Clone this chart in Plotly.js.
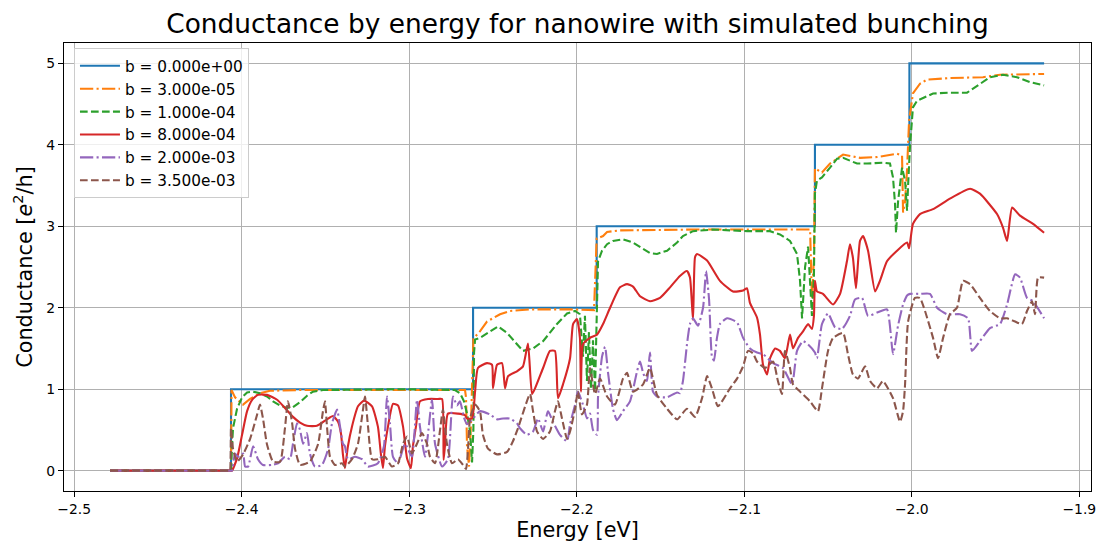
<!DOCTYPE html>
<html>
<head>
<meta charset="utf-8">
<script src="https://cdn.plot.ly/plotly-3.0.1.min.js"></script>
<style>html,body{margin:0;padding:0;background:#fff;}#chart{width:1097px;height:542px;}</style>
</head>
<body>
<div id="chart"></div>
<script>
// Series labels
const seriesLabels = ["b = 0.000e+00", "b = 3.000e-05", "b = 1.000e-04", "b = 8.000e-04", "b = 2.000e-03", "b = 3.500e-03"];
const seriesColors = ["#1f77b4", "#ff7f0e", "#2ca02c", "#d62728", "#9467bd", "#8c564b"];
const xTicks = [-2.5, -2.4, -2.3, -2.2, -2.1, -2.0, -1.9];
const yTicks = [0, 1, 2, 3, 4, 5];

// b = 0
const energy0 = [-2.4786, -2.4064, -2.4064, -2.2619, -2.2619, -2.1881, -2.1881, -2.0578, -2.0578, -2.0014, -2.0014, -1.9210];
const cond0   = [0, 0, 1, 1, 2, 2, 3, 3, 4, 4, 5, 5];

// b = 3e-5
const energy1 = [-2.4786, -2.4064, -2.4061, -2.4040, -2.3992, -2.3950, -2.3891, -2.3831, -2.3652, -2.3055, -2.2667, -2.2661, -2.2655, -2.2643, -2.2631, -2.2617, -2.2578, -2.2536, -2.2458, -2.2399, -2.2279, -2.2040, -2.1897, -2.1881, -2.1843, -2.1819, -2.1742, -2.1264, -2.0667, -2.0607, -2.0601, -2.0596, -2.0584, -2.0578, -2.0536, -2.0488, -2.0410, -2.0309, -2.0207, -2.0088, -2.0058, -2.0052, -2.0040, -2.0028, -2.0016, -1.9993, -1.9951, -1.9909, -1.9772, -1.9575, -1.9473, -1.9210];
const cond1   = [0, 0, 0.99, 0.90, 0.81, 0.88, 0.95, 0.98, 0.99, 0.995, 0.99, 0.9, 0.3, 0.05, 0.6, 1.62, 1.71, 1.83, 1.92, 1.96, 1.98, 1.98, 1.97, 2.85, 2.88, 2.93, 2.95, 2.96, 2.96, 2.96, 2.5, 2.12, 2.6, 3.71, 3.66, 3.77, 3.88, 3.84, 3.85, 3.89, 3.87, 3.17, 3.3, 3.7, 4.3, 4.63, 4.75, 4.80, 4.82, 4.83, 4.86, 4.87];

// b = 1e-4
const energy2 = [-2.4786, -2.4064, -2.4058, -2.4052, -2.4028, -2.3998, -2.3968, -2.3932, -2.3891, -2.3849, -2.3813, -2.3771, -2.3730, -2.3694, -2.3652, -2.3610, -2.3575, -2.3515, -2.3055, -2.2727, -2.2697, -2.2673, -2.2655, -2.2637, -2.2625, -2.2617, -2.2613, -2.2607, -2.2578, -2.2518, -2.2470, -2.2416, -2.2357, -2.2321, -2.2261, -2.2201, -2.2118, -2.2058, -2.2010, -2.1981, -2.1963, -2.1951, -2.1939, -2.1927, -2.1915, -2.1903, -2.1891, -2.1885, -2.1879, -2.1873, -2.1849, -2.1819, -2.1784, -2.1724, -2.1664, -2.1604, -2.1563, -2.1521, -2.1461, -2.1401, -2.1366, -2.1306, -2.1187, -2.0984, -2.0846, -2.0787, -2.0727, -2.0685, -2.0667, -2.0655, -2.0637, -2.0619, -2.0607, -2.0596, -2.0584, -2.0578, -2.0566, -2.0536, -2.0488, -2.0446, -2.0410, -2.0327, -2.0267, -2.0172, -2.0130, -2.0112, -2.0100, -2.0094, -2.0082, -2.0058, -2.0040, -2.0028, -2.0022, -2.0010, -1.9993, -1.9969, -1.9873, -1.9772, -1.9670, -1.9593, -1.9533, -1.9455, -1.9372, -1.9294, -1.9210];
const cond2   = [0, 0, 0.30, 0.52, 0.76, 0.90, 0.96, 0.97, 0.95, 0.91, 0.85, 0.80, 0.77, 0.78, 0.84, 0.92, 0.97, 0.99, 1.0, 0.99, 0.95, 0.85, 0.7, 0.48, 0.1, 0.5, 1.45, 1.61, 1.63, 1.71, 1.77, 1.69, 1.55, 1.47, 1.50, 1.59, 1.80, 1.93, 1.96, 1.92, 1.4, 1.9, 1.1, 1.7, 1.0, 1.6, 0.98, 1.5, 2.3, 2.57, 2.70, 2.78, 2.82, 2.84, 2.80, 2.72, 2.67, 2.66, 2.70, 2.80, 2.88, 2.94, 2.96, 2.94, 2.94, 2.90, 2.82, 2.66, 2.33, 1.87, 2.5, 2.75, 2.3, 1.9, 2.4, 3.4, 3.56, 3.60, 3.72, 3.83, 3.84, 3.77, 3.77, 3.78, 3.77, 3.60, 3.28, 2.92, 3.3, 3.72, 3.56, 3.19, 3.5, 4.0, 4.46, 4.54, 4.63, 4.64, 4.64, 4.75, 4.83, 4.86, 4.83, 4.77, 4.73];

// b = 8e-4
const energy3 = [-2.4786, -2.4066, -2.4058, -2.4028, -2.3998, -2.3968, -2.3938, -2.3903, -2.3849, -2.3789, -2.3742, -2.3694, -2.3652, -2.3610, -2.3551, -2.3491, -2.3455, -2.3425, -2.3407, -2.3396, -2.3384, -2.3366, -2.3342, -2.3306, -2.3270, -2.3222, -2.3187, -2.3169, -2.3157, -2.3145, -2.3127, -2.3097, -2.3067, -2.3037, -2.3013, -2.2990, -2.2978, -2.2960, -2.2936, -2.2888, -2.2828, -2.2804, -2.2795, -2.2787, -2.2769, -2.2709, -2.2667, -2.2655, -2.2625, -2.2607, -2.2590, -2.2536, -2.2506, -2.2500, -2.2476, -2.2446, -2.2428, -2.2410, -2.2357, -2.2321, -2.2291, -2.2267, -2.2249, -2.2201, -2.2160, -2.2130, -2.2112, -2.2082, -2.2040, -2.2022, -2.1999, -2.1981, -2.1975, -2.1963, -2.1921, -2.1879, -2.1843, -2.1801, -2.1742, -2.1700, -2.1664, -2.1622, -2.1563, -2.1503, -2.1443, -2.1384, -2.1342, -2.1324, -2.1306, -2.1294, -2.1282, -2.1222, -2.1145, -2.1067, -2.1007, -2.0984, -2.0966, -2.0924, -2.0906, -2.0888, -2.0864, -2.0846, -2.0816, -2.0787, -2.0757, -2.0727, -2.0709, -2.0679, -2.0649, -2.0619, -2.0596, -2.0584, -2.0578, -2.0566, -2.0530, -2.0470, -2.0428, -2.0387, -2.0369, -2.0351, -2.0333, -2.0309, -2.0291, -2.0261, -2.0219, -2.0190, -2.0148, -2.0088, -2.0028, -2.0016, -1.9993, -1.9951, -1.9873, -1.9772, -1.9652, -1.9593, -1.9491, -1.9455, -1.9431, -1.9401, -1.9354, -1.9276, -1.9210];
const cond3   = [0, 0, 0, 0.15, 0.44, 0.73, 0.87, 0.93, 0.93, 0.87, 0.77, 0.66, 0.59, 0.55, 0.55, 0.63, 0.67, 0.60, 0.45, 0.2, 0.03, 0.3, 0.54, 0.79, 0.86, 0.79, 0.54, 0.2, 0.03, 0.3, 0.54, 0.82, 0.80, 0.54, 0.15, 0.03, 0.3, 0.54, 0.85, 0.88, 0.88, 0.88, 0.13, 0.3, 0.70, 0.70, 0.68, 0.64, 0.64, 0.97, 1.26, 1.32, 1.30, 1.01, 1.30, 1.32, 1.01, 1.16, 1.22, 1.28, 1.56, 0.94, 1.01, 1.26, 1.47, 1.47, 0.89, 1.06, 1.38, 1.80, 1.86, 1.63, 0.97, 1.55, 1.63, 1.67, 1.80, 2.0, 2.25, 2.29, 2.26, 2.14, 2.08, 2.12, 2.25, 2.39, 2.45, 2.37, 1.85, 2.62, 2.66, 2.58, 2.33, 2.20, 2.21, 2.24, 2.06, 1.88, 1.67, 1.30, 1.18, 1.38, 1.50, 1.47, 1.38, 1.67, 1.50, 1.63, 1.71, 1.80, 1.74, 1.9, 2.33, 2.20, 2.17, 2.04, 2.17, 2.57, 2.78, 2.61, 2.24, 2.82, 2.88, 2.70, 2.20, 2.33, 2.57, 2.70, 2.80, 2.73, 3.03, 3.15, 3.21, 3.34, 3.46, 3.40, 3.15, 2.98, 2.82, 3.23, 3.13, 3.03, 2.92];

// b = 2e-3
const energy4 = [-2.4786, -2.4066, -2.4058, -2.4040, -2.4022, -2.3992, -2.3980, -2.3962, -2.3932, -2.3903, -2.3873, -2.3819, -2.3783, -2.3742, -2.3712, -2.3694, -2.3670, -2.3652, -2.3634, -2.3610, -2.3593, -2.3563, -2.3521, -2.3485, -2.3461, -2.3431, -2.3413, -2.3396, -2.3384, -2.3366, -2.3324, -2.3282, -2.3246, -2.3187, -2.3151, -2.3133, -2.3115, -2.3097, -2.3067, -2.3025, -2.2984, -2.2954, -2.2936, -2.2906, -2.2864, -2.2846, -2.2804, -2.2769, -2.2739, -2.2715, -2.2697, -2.2673, -2.2655, -2.2619, -2.2578, -2.2518, -2.2476, -2.2440, -2.2399, -2.2357, -2.2339, -2.2297, -2.2261, -2.2231, -2.2201, -2.2172, -2.2142, -2.2100, -2.2058, -2.2040, -2.2010, -2.1993, -2.1963, -2.1939, -2.1921, -2.1903, -2.1879, -2.1873, -2.1849, -2.1831, -2.1813, -2.1784, -2.1760, -2.1724, -2.1682, -2.1640, -2.1622, -2.1604, -2.1581, -2.1563, -2.1545, -2.1521, -2.1461, -2.1401, -2.1384, -2.1366, -2.1342, -2.1324, -2.1306, -2.1276, -2.1246, -2.1228, -2.1210, -2.1193, -2.1181, -2.1163, -2.1145, -2.1103, -2.1043, -2.1007, -2.0966, -2.0924, -2.0888, -2.0828, -2.0769, -2.0715, -2.0685, -2.0649, -2.0619, -2.0578, -2.0566, -2.0536, -2.0500, -2.0458, -2.0416, -2.0369, -2.0339, -2.0297, -2.0261, -2.0207, -2.0148, -2.0112, -2.0082, -2.0052, -2.0028, -2.0010, -1.9951, -1.9891, -1.9849, -1.9790, -1.9712, -1.9664, -1.9640, -1.9593, -1.9533, -1.9473, -1.9431, -1.9383, -1.9354, -1.9312, -1.9276, -1.9210];
const cond4   = [0, 0, 0, 0.21, 0.17, 0.21, 0.05, 0.05, 0.30, 0.14, 0.07, 0.07, 0.09, 0.17, 0.14, 0.33, 0.58, 0.50, 0.33, 0.46, 0.21, 0.05, 0.07, 0.26, 0.58, 0.75, 0.54, 0.33, 0.30, 0.14, 0.17, 0.14, 0.05, 0.09, 0.30, 0.91, 0.58, 0.17, 0.09, 0.33, 0.17, 0.87, 0.54, 0.17, 0.87, 0.33, 0.05, 0.14, 0.91, 0.80, 0.85, 0.65, 0.57, 0.64, 0.73, 0.69, 0.63, 0.64, 0.64, 0.58, 0.52, 0.44, 0.48, 0.64, 0.48, 0.73, 0.60, 0.44, 0.36, 0.57, 0.81, 0.97, 0.81, 0.64, 0.70, 0.50, 0.44, 0.9, 1.40, 1.52, 1.2, 0.76, 0.62, 0.73, 0.85, 1.22, 1.34, 1.2, 1.10, 1.45, 0.97, 0.91, 0.90, 0.96, 0.95, 1.10, 1.55, 1.80, 1.87, 1.78, 2.0, 2.45, 2.1, 1.40, 1.35, 1.63, 1.80, 1.87, 1.82, 1.63, 1.50, 1.45, 1.43, 1.32, 1.26, 1.06, 1.47, 1.59, 1.55, 1.45, 1.38, 1.80, 1.93, 1.76, 1.74, 1.90, 2.10, 2.12, 1.90, 1.94, 1.98, 1.43, 1.78, 2.04, 2.15, 2.17, 2.17, 2.17, 2.0, 1.92, 1.92, 1.87, 1.47, 1.59, 1.75, 1.80, 2.04, 2.41, 2.37, 2.12, 2.08, 1.87];

// b = 3.5e-3
const energy5 = [-2.4786, -2.4076, -2.4070, -2.4064, -2.4052, -2.4028, -2.3992, -2.3950, -2.3908, -2.3891, -2.3873, -2.3849, -2.3813, -2.3771, -2.3742, -2.3724, -2.3700, -2.3682, -2.3652, -2.3593, -2.3545, -2.3515, -2.3503, -2.3491, -2.3473, -2.3443, -2.3402, -2.3384, -2.3342, -2.3306, -2.3276, -2.3264, -2.3246, -2.3222, -2.3187, -2.3145, -2.3103, -2.3067, -2.3037, -2.3013, -2.2984, -2.2954, -2.2924, -2.2894, -2.2876, -2.2846, -2.2816, -2.2799, -2.2775, -2.2745, -2.2709, -2.2679, -2.2661, -2.2649, -2.2637, -2.2607, -2.2578, -2.2560, -2.2530, -2.2476, -2.2416, -2.2381, -2.2351, -2.2279, -2.2261, -2.2237, -2.2201, -2.2160, -2.2130, -2.2112, -2.2088, -2.2058, -2.2040, -2.2010, -2.1993, -2.1969, -2.1939, -2.1921, -2.1891, -2.1861, -2.1819, -2.1772, -2.1724, -2.1700, -2.1664, -2.1604, -2.1563, -2.1521, -2.1461, -2.1401, -2.1342, -2.1294, -2.1252, -2.1222, -2.1193, -2.1157, -2.1085, -2.1043, -2.1007, -2.0978, -2.0948, -2.0924, -2.0876, -2.0828, -2.0799, -2.0775, -2.0757, -2.0727, -2.0709, -2.0667, -2.0607, -2.0560, -2.0536, -2.0500, -2.0470, -2.0410, -2.0381, -2.0351, -2.0321, -2.0279, -2.0249, -2.0207, -2.0172, -2.0112, -2.0070, -2.0052, -2.0040, -2.0022, -1.9981, -1.9951, -1.9921, -1.9873, -1.9843, -1.9813, -1.9772, -1.9730, -1.9694, -1.9652, -1.9593, -1.9533, -1.9473, -1.9431, -1.9383, -1.9342, -1.9312, -1.9282, -1.9264, -1.9246, -1.9210];
const cond5   = [0, 0, 0, 0.52, 0.27, 0.11, 0.20, 0.39, 0.69, 0.81, 0.64, 0.32, 0.11, 0.11, 0.52, 0.85, 0.60, 0.27, 0.07, 0.11, 0.32, 0.73, 0.85, 0.54, 0.17, 0.07, 0.09, 0.05, 0.14, 0.33, 0.75, 0.91, 0.54, 0.14, 0.14, 0.17, 0.05, 0.09, 0.33, 0.42, 0.21, 0.33, 0.46, 0.33, 0.17, 0.09, 0.50, 0.75, 0.33, 0.09, 0.14, 0.07, 0.02, 0.27, 0.64, 0.81, 0.73, 0.44, 0.27, 0.20, 0.23, 0.36, 0.52, 0.94, 0.73, 0.48, 0.39, 0.48, 0.73, 0.85, 0.64, 0.39, 0.48, 0.76, 0.97, 0.69, 0.81, 1.26, 0.94, 1.13, 0.91, 0.81, 1.13, 1.20, 0.97, 1.06, 1.26, 0.93, 0.76, 0.63, 0.76, 0.66, 0.89, 1.16, 1.01, 0.79, 1.01, 1.13, 1.28, 1.47, 1.44, 1.34, 1.26, 1.34, 1.10, 0.94, 1.47, 1.26, 1.06, 0.97, 0.85, 0.73, 1.01, 1.47, 1.63, 1.69, 1.43, 1.18, 1.13, 1.28, 1.10, 1.01, 1.10, 0.89, 0.60, 0.73, 1.06, 1.83, 2.12, 2.12, 1.96, 1.63, 1.38, 1.63, 1.92, 2.0, 2.33, 2.29, 2.12, 1.96, 1.87, 1.87, 1.83, 1.80, 1.96, 2.08, 1.92, 2.37, 2.37];

const energies = [energy0, energy1, energy2, energy3, energy4, energy5];
const conds = [cond0, cond1, cond2, cond3, cond4, cond5];
const dashes = ["solid", "13.3px,3.3px,2.1px,3.3px", "7.7px,3.3px", "solid", "13.3px,3.3px,2.1px,3.3px", "7.7px,3.3px"];
const shapes = ["linear", "linear", "linear", "spline", "spline", "spline"];

const traces = energies.map((ex, i) => ({
  x: ex, y: conds[i], type: "scatter", mode: "lines", name: seriesLabels[i],
  line: {color: seriesColors[i], width: 2.1, dash: dashes[i], shape: shapes[i], smoothing: 0.5}
}));

const font = "DejaVu Sans, sans-serif";
const layout = {
  width: 1097, height: 542,
  paper_bgcolor: "#ffffff", plot_bgcolor: "#ffffff",
  margin: {l: 64, r: 6, t: 43, b: 51, pad: 0},
  font: {family: font, size: 14, color: "#000000"},
  title: {text: "Conductance by energy for nanowire with simulated bunching", font: {family: font, size: 26.4, color: "#000"}, x: 0.5, xref: "paper", xanchor: "center", y: 0.956, yanchor: "middle"},
  xaxis: {
    range: [-2.5061, -1.8930], tickvals: xTicks, tickformat: ".1f",
    showgrid: true, gridcolor: "#b0b0b0", gridwidth: 1.1, zeroline: false,
    showline: true, linecolor: "#000", linewidth: 1.1, mirror: true,
    ticks: "outside", ticklen: 5, tickwidth: 1.1, tickcolor: "#000",
    tickfont: {family: font, size: 13.9, color: "#000"},
    title: {text: "Energy [eV]", font: {family: font, size: 20.8, color: "#000"}, standoff: 6}
  },
  yaxis: {
    range: [-0.25, 5.25], tickvals: yTicks,
    showgrid: true, gridcolor: "#b0b0b0", gridwidth: 1.1, zeroline: false,
    showline: true, linecolor: "#000", linewidth: 1.1, mirror: true,
    ticks: "outside", ticklen: 5, tickwidth: 1.1, tickcolor: "#000",
    tickfont: {family: font, size: 13.9, color: "#000"},
    title: {text: "Conductance [<i>e</i><sup>2</sup>/h]", font: {family: font, size: 20.8, color: "#000"}, standoff: 8}
  },
  showlegend: true,
  legend: {x: 0.0097, y: 0.988, xanchor: "left", yanchor: "top", bgcolor: "rgba(255,255,255,0.8)", bordercolor: "#cccccc", borderwidth: 1, font: {family: font, size: 15.3, color: "#000"}, tracegroupgap: 0, itemwidth: 40}
};

Plotly.newPlot("chart", traces, layout, {staticPlot: true, displayModeBar: false});
</script>
</body>
</html>
